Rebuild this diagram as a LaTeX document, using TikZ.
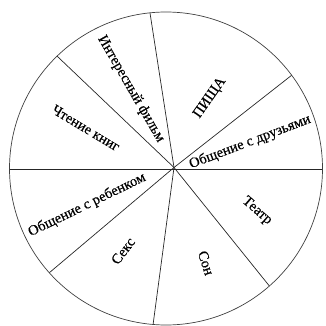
\documentclass[tikz,border=0pt]{standalone}
\usepackage{fontspec}
\setmainfont{Liberation Serif}
\newfontfamily\lblfont[FakeBold=0.3]{Liberation Serif}
\usetikzlibrary{calc}
\begin{document}
\begin{tikzpicture}[x=1pt,y=-1pt,
  spoke/.style={draw=black!85,line width=0.7pt},
  rim/.style={draw=black!75,line width=0.7pt},
  lbl/.style={font=\lblfont\fontsize{14.5}{16}\selectfont,inner sep=0pt}]
\useasboundingbox (0,0) rectangle (325,326);
\coordinate (ctr) at (166,168.5);
\coordinate (hub) at (174,167.5);
\coordinate (pL) at (9,168);
\coordinate (pR) at (322,168);
\coordinate (pUL) at (58,57);
\coordinate (pT) at (150,13);
\coordinate (pUR) at (292,75);
\coordinate (pLR) at (271,288);
\coordinate (pB) at (153,325);
\coordinate (pLL) at (49,273);
\begin{scope}
\clip (ctr) circle (156.5);
\draw[spoke] ($(hub)!3!(pL)$) -- ($(hub)!3!(pR)$);
\foreach \p in {pUL,pT,pUR,pLR,pB,pLL}
  \draw[spoke] (hub) -- ($(hub)!3!(\p)$);
\end{scope}
\draw[rim] (ctr) circle (156.5);
\node[lbl,rotate=-60] (film) at (131,89) {Интересный фильм};
\node[lbl,rotate=55] (food) at (210,98) {ПИЩА};
\node[lbl,rotate=21] (friends) at (250,142) {Общение с друзьями};
\node[lbl,rotate=-41] (theatre) at (257,211) {Театр};
\node[lbl,rotate=-72] (sleep) at (206,263) {Сон};
\node[lbl,rotate=53] (sex) at (123,251) {Секс};
\node[lbl,rotate=26] (child) at (87,205) {Общение с ребенком};
\node[lbl,rotate=-31] (books) at (86,128) {Чтение книг};
\end{tikzpicture}
\end{document}
